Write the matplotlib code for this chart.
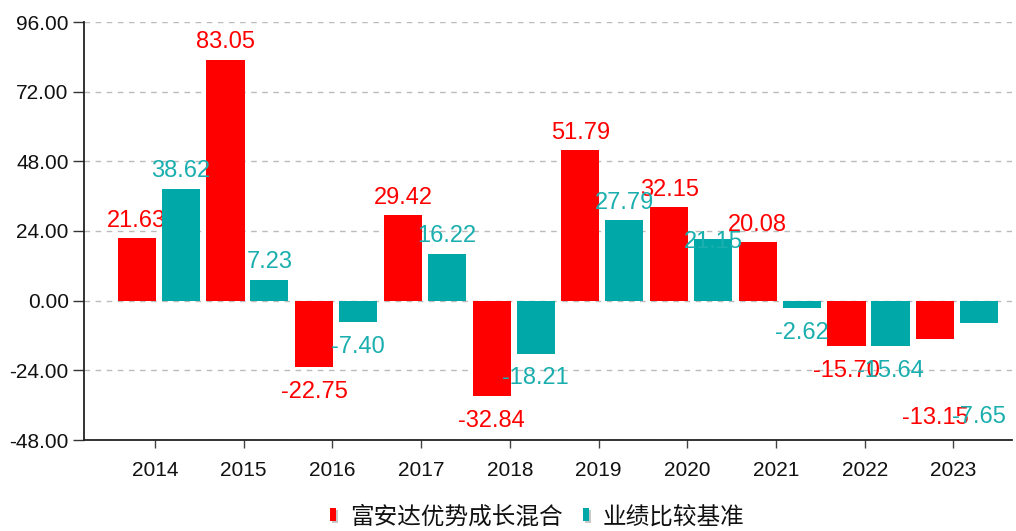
import matplotlib
matplotlib.use("Agg")
import matplotlib.pyplot as plt
from matplotlib.patches import Rectangle
import numpy as np

years = ["2014", "2015", "2016", "2017", "2018", "2019", "2020", "2021", "2022", "2023"]
fund = [21.63, 83.05, -22.75, 29.42, -32.84, 51.79, 32.15, 20.08, -15.70, -13.15]
bench = [38.62, 7.23, -7.40, 16.22, -18.21, 27.79, 21.15, -2.62, -15.64, -7.65]
yticks = [96, 72, 48, 24, 0, -24, -48]
names = ["富安达优势成长混合", "业绩比较基准"]

# extra downward label shifts (points) where the original chart moved colliding labels
fund_shift = [0, 0, 0, 0, 0, 0, 0, 0, 0, 39]
bench_shift = [0, 0, 0, 0, 0, 0, 14.5, 0, 0, 50]

red = "#FF0000"
teal = "#00A8A8"
teal_txt = "#1AAEAE"

W, H = 1016, 531
plt.rcParams['font.family'] = ['Liberation Sans', 'Noto Sans CJK SC', 'DejaVu Sans']

fig = plt.figure(figsize=(W / 100, H / 100), dpi=100)
ax = fig.add_axes([84 / W, 1 - 440 / H, (1012 - 84) / W, (440 - 22) / H])

x = np.arange(len(years))
w = 0.43
b1 = ax.bar(x - 0.205, fund, w, color=red, zorder=2)
b2 = ax.bar(x + 0.29, bench, w, color=teal, zorder=4)


def put_labels(xs, vals, shifts, color, z):
    for xi, v, s in zip(xs, vals, shifts):
        if v >= 0:
            dy, va = 4.5 - s, "bottom"
        else:
            dy, va = -10 - s, "top"
        ax.annotate(f"{v:.2f}", (xi, v), xytext=(0, dy), textcoords="offset points",
                    ha="center", va=va, color=color, fontsize=17, zorder=z,
                    annotation_clip=False)


put_labels(x - 0.205, fund, fund_shift, red, 3)
put_labels(x + 0.29, bench, bench_shift, teal_txt, 5)

ax.set_ylim(-48, 96)
ax.set_xlim(-0.8, 9.66)
ax.set_yticks(yticks)
ax.set_yticklabels([f"{t:.2f}" for t in yticks], fontsize=15, color="#111111")
ax.set_xticks(x)
ax.set_xticklabels(years, fontsize=15, color="#111111")
ax.tick_params(axis="x", length=6, width=1, color="#444444", pad=9)
ax.tick_params(axis="y", length=8, width=1, color="#333333", pad=3)
ax.yaxis.grid(True, linestyle=(0, (4, 4)), color="#BBBBBB", linewidth=1, zorder=0)
for s in ["top", "right"]:
    ax.spines[s].set_visible(False)
for s in ["left", "bottom"]:
    ax.spines[s].set_color("#222222")
    ax.spines[s].set_linewidth(1.3)

# legend (drawn by hand to match the narrow shadowed markers)
def legend_item(x0, color, text):
    fig.add_artist(Rectangle(((x0 + 2) / W, 1 - 523 / H), 6 / W, 13 / H,
                             transform=fig.transFigure, color="#C8C8C8", lw=0))
    fig.add_artist(Rectangle((x0 / W, 1 - 521 / H), 6 / W, 13 / H,
                             transform=fig.transFigure, color=color, lw=0))
    fig.text((x0 + 20) / W, 1 - 517 / H, text, fontsize=17, va="center", ha="left",
             color="#111111", family=['Noto Sans CJK SC', 'DejaVu Sans'])


legend_item(330, red, names[0])
legend_item(583, teal, names[1])

fig.savefig("out.png", dpi=100)
